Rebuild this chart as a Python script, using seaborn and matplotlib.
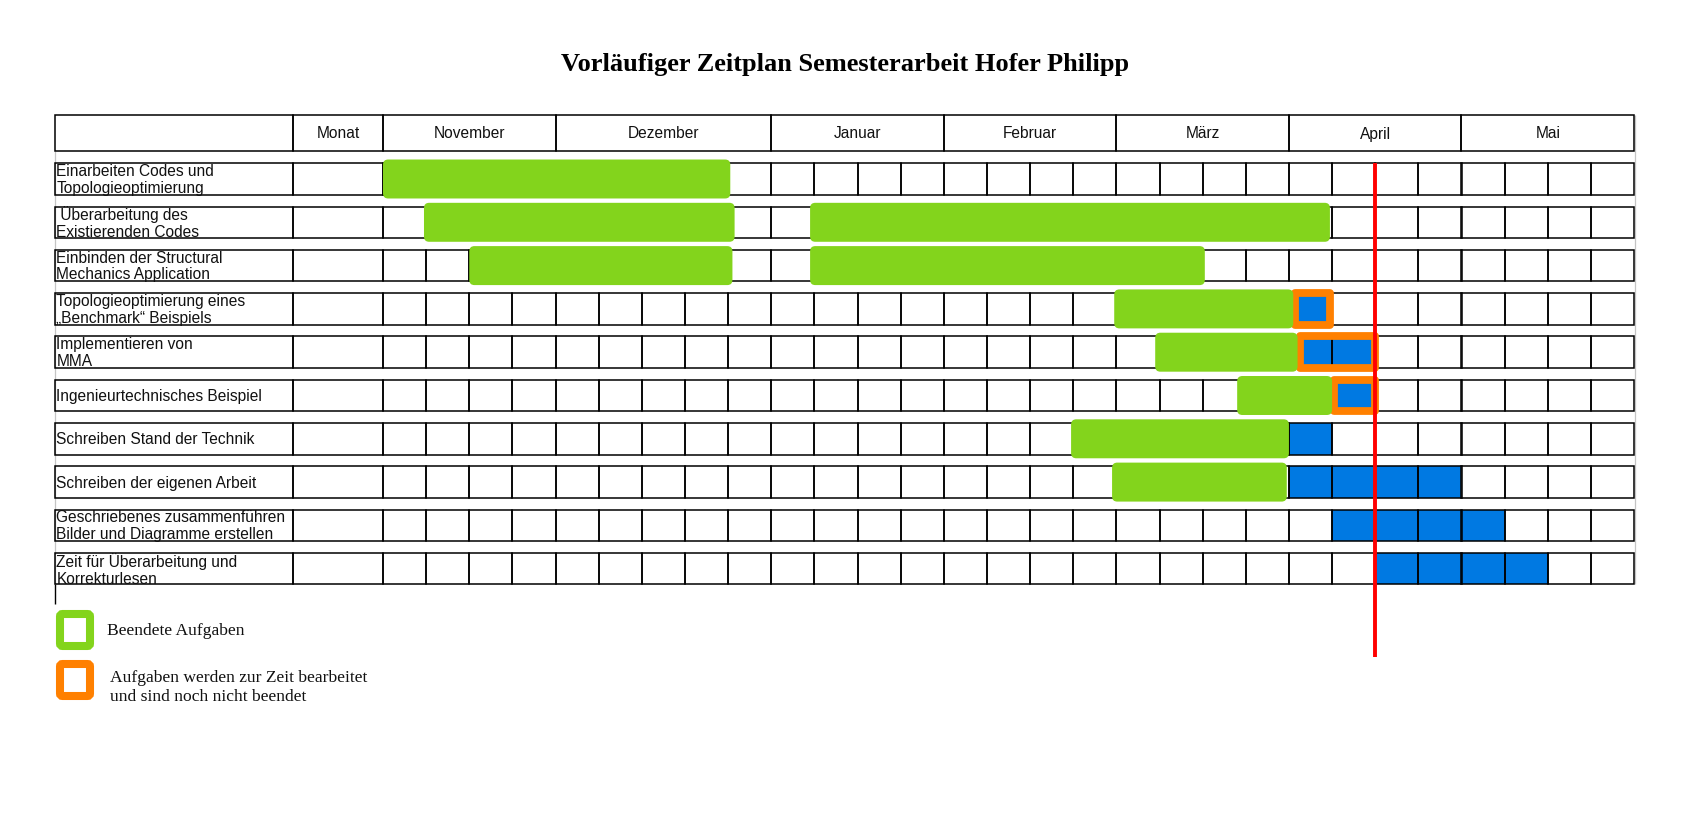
import numpy as np
import seaborn as sns
import matplotlib.pyplot as plt
from matplotlib.patches import FancyBboxPatch

title = "Vorläufiger Zeitplan Semesterarbeit Hofer Philipp"

tasks = [
    "Einarbeiten Codes und\nTopologieoptimierung",
    " Überarbeitung des\nExistierenden Codes",
    "Einbinden der Structural\nMechanics Application",
    "Topologieoptimierung eines\n„Benchmark“ Beispiels",
    "Implementieren von\nMMA",
    "Ingenieurtechnisches Beispiel",
    "Schreiben Stand der Technik",
    "Schreiben der eigenen Arbeit",
    "Geschriebenes zusammenführen\nBilder und Diagramme erstellen",
    "Zeit für Überarbeitung und\nKorrekturlesen",
]

months = ["November", "Dezember", "Januar", "Februar", "März", "April", "Mai"]
month_weeks = [4, 5, 4, 4, 4, 4, 4]

# finished work (green), in weeks from start of November
done_task = [0, 1, 1, 2, 2, 3, 4, 5, 6, 7]
done_start = [0.0, 0.95, 9.9, 2.0, 9.9, 16.95, 17.9, 19.8, 15.95, 16.9]
done_end = [8.05, 8.15, 21.95, 8.1, 19.05, 21.1, 21.2, 22.0, 21.0, 20.95]

# planned weeks (blue cells)
plan_task = [3, 4, 5, 6, 7, 8, 9]
plan_start = [21, 21, 22, 21, 21, 22, 23]
plan_weeks = [1, 2, 1, 1, 4, 4, 4]

# currently in progress (orange frame)
prog_task = [3, 4, 5]
prog_start = [21.15, 21.25, 22.05]
prog_end = [21.95, 23.0, 23.0]

today_week = 23.0

green = "#83d41c"
blue = "#0079e2"
orange = "#ff8000"

sns.set_theme(style="white")
plt.rcParams["font.family"] = ["Liberation Sans", "DejaVu Sans"]

W, H = 1702, 820
fig = plt.figure(figsize=(W / 100, H / 100), dpi=100)
ax = fig.add_axes([0, 0, 1, 1])
ax.set_axis_off()

# sheet layout (pixels): week grid starts at x0, first row centre at y0
x0, wk = 383, 43.14
y0, rp = 180, 43.3
ax.set_xlim(-x0 / wk, (W - x0) / wk)
ax.set_ylim((H - y0) / rp, -y0 / rp)


def px(x):
    return (x - x0) / wk


def py(y):
    return (y - y0) / rp


n_weeks = sum(month_weeks)
rows = np.arange(len(tasks))
label_left = px(55)
monat_left = px(293)
cell_h = 31.5 / rp
head_y = py(134)
head_h = 36 / rp
lw_grid = 1.1

# blue planned cells
ax.barh(plan_task, plan_weeks, left=plan_start, height=cell_h, color=blue,
        linewidth=0, zorder=1)

# table grid
for r in rows:
    ax.barh(np.full(n_weeks, r), 1, left=np.arange(n_weeks), height=cell_h,
            fill=False, edgecolor="black", linewidth=lw_grid, zorder=2)
    ax.barh([r, r], [monat_left - label_left, -monat_left], left=[label_left, monat_left],
            height=cell_h, fill=False, edgecolor="black", linewidth=lw_grid, zorder=2)
    ax.text(label_left + 0.03, r, tasks[r], ha="left", va="center", fontsize=11.2,
            linespacing=1.15, color="#111111", zorder=7)

m_left = np.concatenate([[0], np.cumsum(month_weeks)[:-1]])
ax.barh(np.full(len(months), head_y), month_weeks, left=m_left, height=head_h,
        fill=False, edgecolor="black", linewidth=lw_grid, zorder=2)
ax.barh([head_y, head_y], [monat_left - label_left, -monat_left], left=[label_left, monat_left],
        height=head_h, fill=False, edgecolor="black", linewidth=lw_grid, zorder=2)
for name, lo, n in zip(months, m_left, month_weeks):
    ax.text(lo + n / 2, head_y, name, ha="center", va="center", fontsize=11.2, color="#111111")
ax.text(monat_left / 2, head_y, "Monat", ha="center", va="center", fontsize=11.2, color="#111111")

# faint sheet borders
ax.vlines(label_left, head_y + head_h / 2, rows[-1] + cell_h / 2, color="#c4c4c4", lw=0.9, zorder=0)
ax.vlines(px(1635), head_y - head_h / 2, rows[-1] + cell_h / 2, color="#c4c4c4", lw=0.9, zorder=0)
ax.vlines(label_left, rows[-1] + cell_h / 2, py(605), color="black", lw=1.0, zorder=2)

# orange in-progress frames
frames = ax.barh(prog_task, np.subtract(prog_end, prog_start), left=prog_start, height=cell_h,
                 fill=False, edgecolor=orange, linewidth=5.6, zorder=3)
for b in frames:
    b.set_joinstyle("round")

# green finished bars with rounded corners
bars = ax.barh(done_task, np.subtract(done_end, done_start), left=done_start, height=0.9,
               color=green, zorder=4)
for b in bars:
    (bx, by), bw, bh = b.get_xy(), b.get_width(), b.get_height()
    b.set_visible(False)
    ax.add_patch(FancyBboxPatch((bx, by), bw, bh, boxstyle="round,pad=0,rounding_size=0.12",
                                fc=green, ec="none", zorder=4))

# today
ax.vlines(today_week, py(164), py(658), color="#ff0000", lw=2.8, zorder=6)

# title
ax.text(px(845), py(64), title, ha="center", va="center", fontsize=19, fontweight="bold",
        family=["Liberation Serif", "DejaVu Serif"], color="black")

# legend
for col, top in [(green, 615), (orange, 665)]:
    ax.add_patch(FancyBboxPatch((px(60), py(top)), 30 / wk, 32 / rp,
                                boxstyle="round,pad=0,rounding_size=0.06",
                                fc="white", ec=col, lw=5.8, zorder=5))
ax.text(px(107), py(631), "Beendete Aufgaben", ha="left", va="center", fontsize=12.6,
        family=["Liberation Serif", "DejaVu Serif"], color="#111111")
ax.text(px(110), py(688), "Aufgaben werden zur Zeit bearbeitet\nund sind noch nicht beendet",
        ha="left", va="center", fontsize=12.6, linespacing=1.25,
        family=["Liberation Serif", "DejaVu Serif"], color="#111111")

fig.savefig("out.png", dpi=100)
